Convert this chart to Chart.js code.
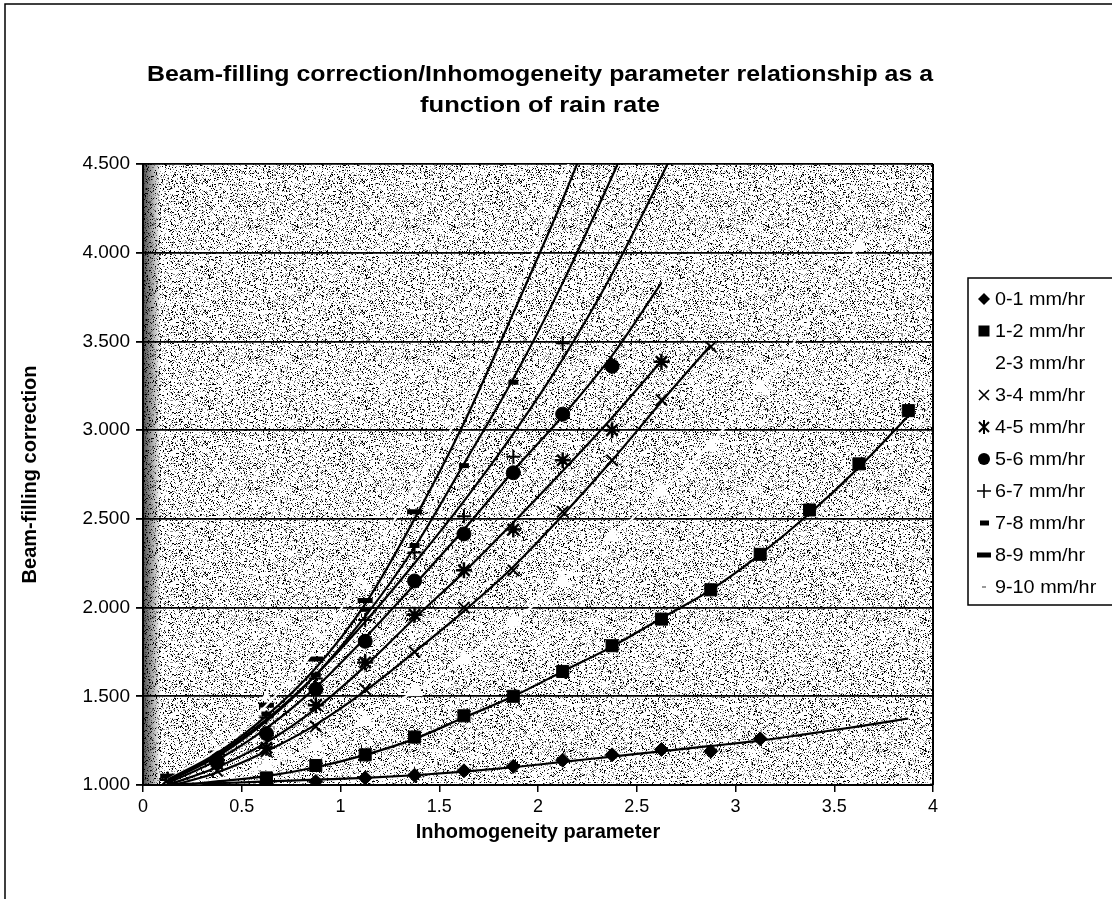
<!DOCTYPE html>
<html>
<head>
<meta charset="utf-8">
<script src="https://cdn.jsdelivr.net/npm/chart.js@4/dist/chart.umd.min.js"></script>
<style>
  html, body { margin: 0; padding: 0; background: #fff; }
  #wrap { width: 1112px; height: 899px; position: relative; }
</style>
</head>
<body>
<div id="wrap"><canvas id="myChart" width="1112" height="899"></canvas></div>
<script>
// x positions (inhomogeneity parameter bins)
const xParam = [0.125, 0.375, 0.625, 0.875, 1.125, 1.375, 1.625, 1.875, 2.125, 2.375, 2.625, 2.875, 3.125, 3.375, 3.625, 3.875];

const seriesNames = ['0-1 mm/hr', '1-2 mm/hr', '2-3 mm/hr', '3-4 mm/hr', '4-5 mm/hr',
                     '5-6 mm/hr', '6-7 mm/hr', '7-8 mm/hr', '8-9 mm/hr', '9-10 mm/hr'];

// marker values (null = no point)
const rate0_1  = [null, 1.00, 1.01, 1.02, 1.04, 1.055, 1.08, 1.105, 1.14, 1.17, 1.20, 1.19, 1.26, null, null, null];
const rate1_2  = [null, null, 1.04, 1.11, 1.17, 1.27, 1.39, 1.50, 1.64, 1.785, 1.935, 2.10, 2.30, 2.55, 2.81, 3.11];
const rate2_3  = [null, null, 1.11, 1.22, 1.36, 1.53, 1.71, 1.92, 2.15, 2.40, 2.655, 2.91, 3.24, null, 4.04, null];
const rate3_4  = [null, 1.08, 1.19, 1.33, 1.54, 1.75, 2.00, 2.21, 2.54, 2.83, 3.17, 3.47, null, null, null, null];
const rate4_5  = [1.03, 1.12, 1.21, 1.45, 1.69, 1.96, 2.21, 2.44, 2.83, 3.00, 3.385, null, null, null, null, null];
const rate5_6  = [null, 1.13, 1.29, 1.54, 1.81, 2.15, 2.415, 2.76, 3.09, 3.36, null, null, null, null, null, null];
const rate6_7  = [null, 1.15, 1.38, 1.60, 1.93, 2.31, 2.515, 2.85, 3.49, null, null, null, null, null, null, null];
const rate7_8  = [null, 1.16, 1.40, 1.62, 1.99, 2.35, 2.80, 3.27, null, null, null, null, null, null, null, null];
const rate8_9  = [1.05, 1.18, 1.45, 1.71, 2.04, 2.54, null, null, null, null, null, null, null, null, null, null];
const rate9_10 = [null, 1.20, 1.50, 1.85, 2.12, 2.66, null, null, null, null, null, null, null, null, null, null];

// trend lines
const fit0_1  = [1.005, 1.01, 1.02, 1.03, 1.04, 1.055, 1.075, 1.10, 1.13, 1.16, 1.19, 1.22, 1.25, 1.29, 1.33, 1.375];
const fit1_2  = [0.99, 1.02, 1.05, 1.10, 1.17, 1.26, 1.38, 1.50, 1.64, 1.78, 1.94, 2.10, 2.30, 2.53, 2.79, 3.08];
const fit2_3  = [0.97, 1.03, 1.11, 1.22, 1.36, 1.53, 1.71, 1.92, 2.15, 2.40, 2.65, 2.93, 3.24, 3.62, 4.04, null];
const fit3_4  = [0.99, 1.07, 1.19, 1.34, 1.53, 1.75, 1.98, 2.23, 2.52, 2.83, 3.16, 3.48, null, null, null, null];
const fit4_5  = [1.00, 1.10, 1.24, 1.43, 1.67, 1.94, 2.20, 2.48, 2.77, 3.07, 3.39, null, null, null, null, null];
const fit5_6  = [1.01, 1.14, 1.32, 1.55, 1.83, 2.13, 2.44, 2.77, 3.08, 3.42, 3.83, null, null, null, null, null];
const fit6_7  = [1.02, 1.17, 1.37, 1.62, 1.92, 2.25, 2.60, 2.98, 3.40, 3.88, 4.43, 5.00, null, null, null, null];
const fit7_8  = [1.02, 1.16, 1.36, 1.62, 1.95, 2.34, 2.81, 3.29, 3.83, 4.43, 5.05, null, null, null, null, null];
const fit8_9  = [1.03, 1.18, 1.39, 1.66, 2.02, 2.50, 3.04, 3.66, 4.30, 5.00, null, null, null, null, null, null];
const fit9_10 = [1.03, 1.20, 1.45, 1.77, 2.22, 2.68, 3.13, 3.73, 4.42, 5.10, null, null, null, null, null, null];

const yTicks = [1.0, 1.5, 2.0, 2.5, 3.0, 3.5, 4.0, 4.5];

const markerSets = [rate0_1, rate1_2, rate2_3, rate3_4, rate4_5, rate5_6, rate6_7, rate7_8, rate8_9, rate9_10];
const fitSets = [fit0_1, fit1_2, fit2_3, fit3_4, fit4_5, fit5_6, fit6_7, fit7_8, fit8_9, fit9_10];

// marker looks: [pointStyle, radius, fill, border, borderWidth]
const looks = [
  ['rectRot', 7, '#000', '#000', 1],
  ['rect', 8.5, '#000', '#000', 1],
  ['triangle', 9, '#fff', '#fff', 1],
  ['crossRot', 8, '#000', '#000', 2],
  ['star', 8, '#000', '#000', 2.5],
  ['circle', 7, '#000', '#000', 1],
  ['cross', 7, '#000', '#000', 2],
  ['line', 5, '#000', '#000', 5],
  ['line', 7.5, '#000', '#000', 5],
  ['triangle', 5, '#fff', '#fff', 1]
];
const lineColors = ['#000', '#000', '#fff', '#000', '#000', '#000', '#000', '#000', '#000', '#fff'];

const FONT = '"Liberation Sans", Arial, sans-serif';

function toPoints(arr) {
  const out = [];
  arr.forEach((v, i) => { if (v !== null) out.push({ x: xParam[i], y: v }); });
  return out;
}

const datasets = [];
fitSets.forEach((arr, i) => {
  datasets.push({
    label: 'fit ' + seriesNames[i],
    data: toPoints(arr),
    showLine: true,
    borderColor: lineColors[i],
    borderWidth: 2.2,
    pointRadius: 0,
    cubicInterpolationMode: 'monotone',
    fill: false
  });
});
markerSets.forEach((arr, i) => {
  const l = looks[i];
  datasets.push({
    label: seriesNames[i],
    data: toPoints(arr),
    showLine: false,
    pointStyle: l[0],
    pointRadius: l[1],
    pointHoverRadius: l[1],
    pointBackgroundColor: l[2],
    pointBorderColor: l[3],
    pointBorderWidth: l[4]
  });
});

// stipple texture for the plot area (deterministic hash, not data)
function makeStipple() {
  const c = document.createElement('canvas');
  c.width = 157; c.height = 131;
  const g = c.getContext('2d');
  const img = g.createImageData(c.width, c.height);
  for (let j = 0; j < c.height; j++) {
    for (let i = 0; i < c.width; i++) {
      let h = Math.imul(i + 7, 374761393) ^ Math.imul(j + 13, 668265263);
      h = Math.imul(h ^ (h >>> 13), 1274126177);
      h = (h ^ (h >>> 16)) >>> 0;
      const v = h / 4294967296;
      let col = 255;
      if (v < 0.11) col = 0;
      else if (v < 0.24) col = 150;
      const p = (j * c.width + i) * 4;
      img.data[p] = img.data[p + 1] = img.data[p + 2] = col;
      img.data[p + 3] = 255;
    }
  }
  g.putImageData(img, 0, 0);
  return c;
}
const stipple = makeStipple();

function legendMarker(ctx, idx, x, y) {
  ctx.save();
  ctx.fillStyle = '#000';
  ctx.strokeStyle = '#000';
  ctx.lineWidth = 1.6;
  ctx.beginPath();
  switch (idx) {
    case 0: ctx.moveTo(x, y - 6); ctx.lineTo(x + 6, y); ctx.lineTo(x, y + 6); ctx.lineTo(x - 6, y); ctx.closePath(); ctx.fill(); break;
    case 1: ctx.fillRect(x - 5.5, y - 5.5, 11, 11); break;
    case 2: break;
    case 3: ctx.moveTo(x - 5, y - 5); ctx.lineTo(x + 5, y + 5); ctx.moveTo(x + 5, y - 5); ctx.lineTo(x - 5, y + 5); ctx.stroke(); break;
    case 4: ctx.lineWidth = 2; ctx.moveTo(x - 5, y - 5); ctx.lineTo(x + 5, y + 5); ctx.moveTo(x + 5, y - 5); ctx.lineTo(x - 5, y + 5);
            ctx.moveTo(x, y - 7); ctx.lineTo(x, y + 7); ctx.stroke(); break;
    case 5: ctx.arc(x, y, 6, 0, Math.PI * 2); ctx.fill(); break;
    case 6: ctx.moveTo(x - 7, y); ctx.lineTo(x + 7, y); ctx.moveTo(x, y - 7); ctx.lineTo(x, y + 7); ctx.stroke(); break;
    case 7: ctx.fillRect(x - 4, y - 2.5, 9, 5); break;
    case 8: ctx.fillRect(x - 7, y - 2.5, 14, 5); break;
    case 9: ctx.fillStyle = '#999'; ctx.fillRect(x - 2, y - 1, 4, 2); break;
  }
  ctx.restore();
}

// text squeezed or stretched to a given width, like the scanned original
function fitText(ctx, text, cx, cy, width) {
  const w = ctx.measureText(text).width;
  ctx.save();
  ctx.translate(cx, cy);
  ctx.scale(width / w, 1);
  ctx.fillText(text, 0, 0);
  ctx.restore();
}

const decor = {
  id: 'decor',
  beforeDraw(chart) {
    const ctx = chart.ctx;
    const a = chart.chartArea;
    ctx.save();
    ctx.fillStyle = '#fff';
    ctx.fillRect(0, 0, chart.width, chart.height);
    // outer frame
    ctx.strokeStyle = '#000';
    ctx.lineWidth = 1.5;
    ctx.beginPath();
    ctx.moveTo(5, chart.height + 5); ctx.lineTo(5, 4); ctx.lineTo(chart.width + 5, 4);
    ctx.stroke();
    // plot area texture
    ctx.fillStyle = ctx.createPattern(stipple, 'repeat');
    ctx.fillRect(a.left, a.top, a.right - a.left, a.bottom - a.top);
    const grad = ctx.createLinearGradient(a.left, 0, a.left + 18, 0);
    grad.addColorStop(0, 'rgba(0,0,0,0.7)');
    grad.addColorStop(1, 'rgba(0,0,0,0)');
    ctx.fillStyle = grad;
    ctx.fillRect(a.left, a.top, 18, a.bottom - a.top);
    ctx.restore();
  },
  afterDraw(chart) {
    const ctx = chart.ctx;
    const a = chart.chartArea;
    ctx.save();
    // right edge of plot
    ctx.strokeStyle = '#000';
    ctx.lineWidth = 2;
    ctx.beginPath();
    ctx.moveTo(a.right, a.top); ctx.lineTo(a.right, a.bottom);
    ctx.stroke();
    // title
    ctx.fillStyle = '#000';
    ctx.textAlign = 'center';
    ctx.textBaseline = 'middle';
    ctx.font = 'bold 22px ' + FONT;
    fitText(ctx, 'Beam-filling correction/Inhomogeneity parameter relationship as a', 540, 75, 786);
    fitText(ctx, 'function of rain rate', 540, 106, 240);
    // legend
    const lx = 968, ly = 278, lh = 327;
    ctx.fillStyle = '#fff';
    ctx.fillRect(lx, ly, 200, lh);
    ctx.lineWidth = 1.5;
    ctx.strokeRect(lx, ly, 200, lh);
    ctx.textAlign = 'left';
    ctx.font = '18px ' + FONT;
    seriesNames.forEach((name, i) => {
      const y = 299 + i * 32;
      legendMarker(ctx, i, 984, y);
      ctx.fillStyle = '#000';
      const w = ctx.measureText(name).width;
      ctx.save();
      ctx.translate(995, y + 1);
      ctx.scale(1.1, 1);
      ctx.fillText(name, 0, 0);
      ctx.restore();
    });
    ctx.restore();
  }
};

const ctx = document.getElementById('myChart').getContext('2d');
new Chart(ctx, {
  type: 'scatter',
  data: { datasets: datasets },
  plugins: [decor],
  options: {
    responsive: false,
    animation: false,
    events: [],
    layout: { padding: { left: 0, top: 164, right: 1112 - 933, bottom: 0 } },
    plugins: {
      legend: { display: false },
      title: { display: false },
      tooltip: { enabled: false }
    },
    scales: {
      x: {
        type: 'linear',
        min: 0, max: 4,
        afterFit(scale) { scale.height = 899 - 785; },
        ticks: {
          stepSize: 0.5,
          color: '#000',
          padding: 4,
          font: { family: FONT, size: 18 },
          callback: v => String(v)
        },
        grid: { drawOnChartArea: false, color: '#000', lineWidth: 1.5, tickLength: 7 },
        border: { display: true, color: '#000', width: 2 },
        title: {
          display: true,
          text: 'Inhomogeneity parameter',
          color: '#000',
          font: { family: FONT, size: 20, weight: 'bold' },
          padding: { top: 0, bottom: 55 }
        }
      },
      y: {
        type: 'linear',
        min: 1, max: 4.5,
        afterFit(scale) { scale.width = 143; },
        afterBuildTicks(scale) { scale.ticks = yTicks.map(v => ({ value: v })); },
        ticks: {
          color: '#000',
          padding: 6,
          font: { family: FONT, size: 19 },
          callback: v => Number(v).toFixed(3)
        },
        grid: { color: '#000', lineWidth: 1.8, tickLength: 7 },
        border: { display: true, color: '#000', width: 2 },
        title: {
          display: true,
          text: 'Beam-filling correction',
          color: '#000',
          font: { family: FONT, size: 20, weight: 'bold' },
          padding: { top: 18, bottom: 0 }
        }
      }
    }
  }
});
</script>
</body>
</html>
